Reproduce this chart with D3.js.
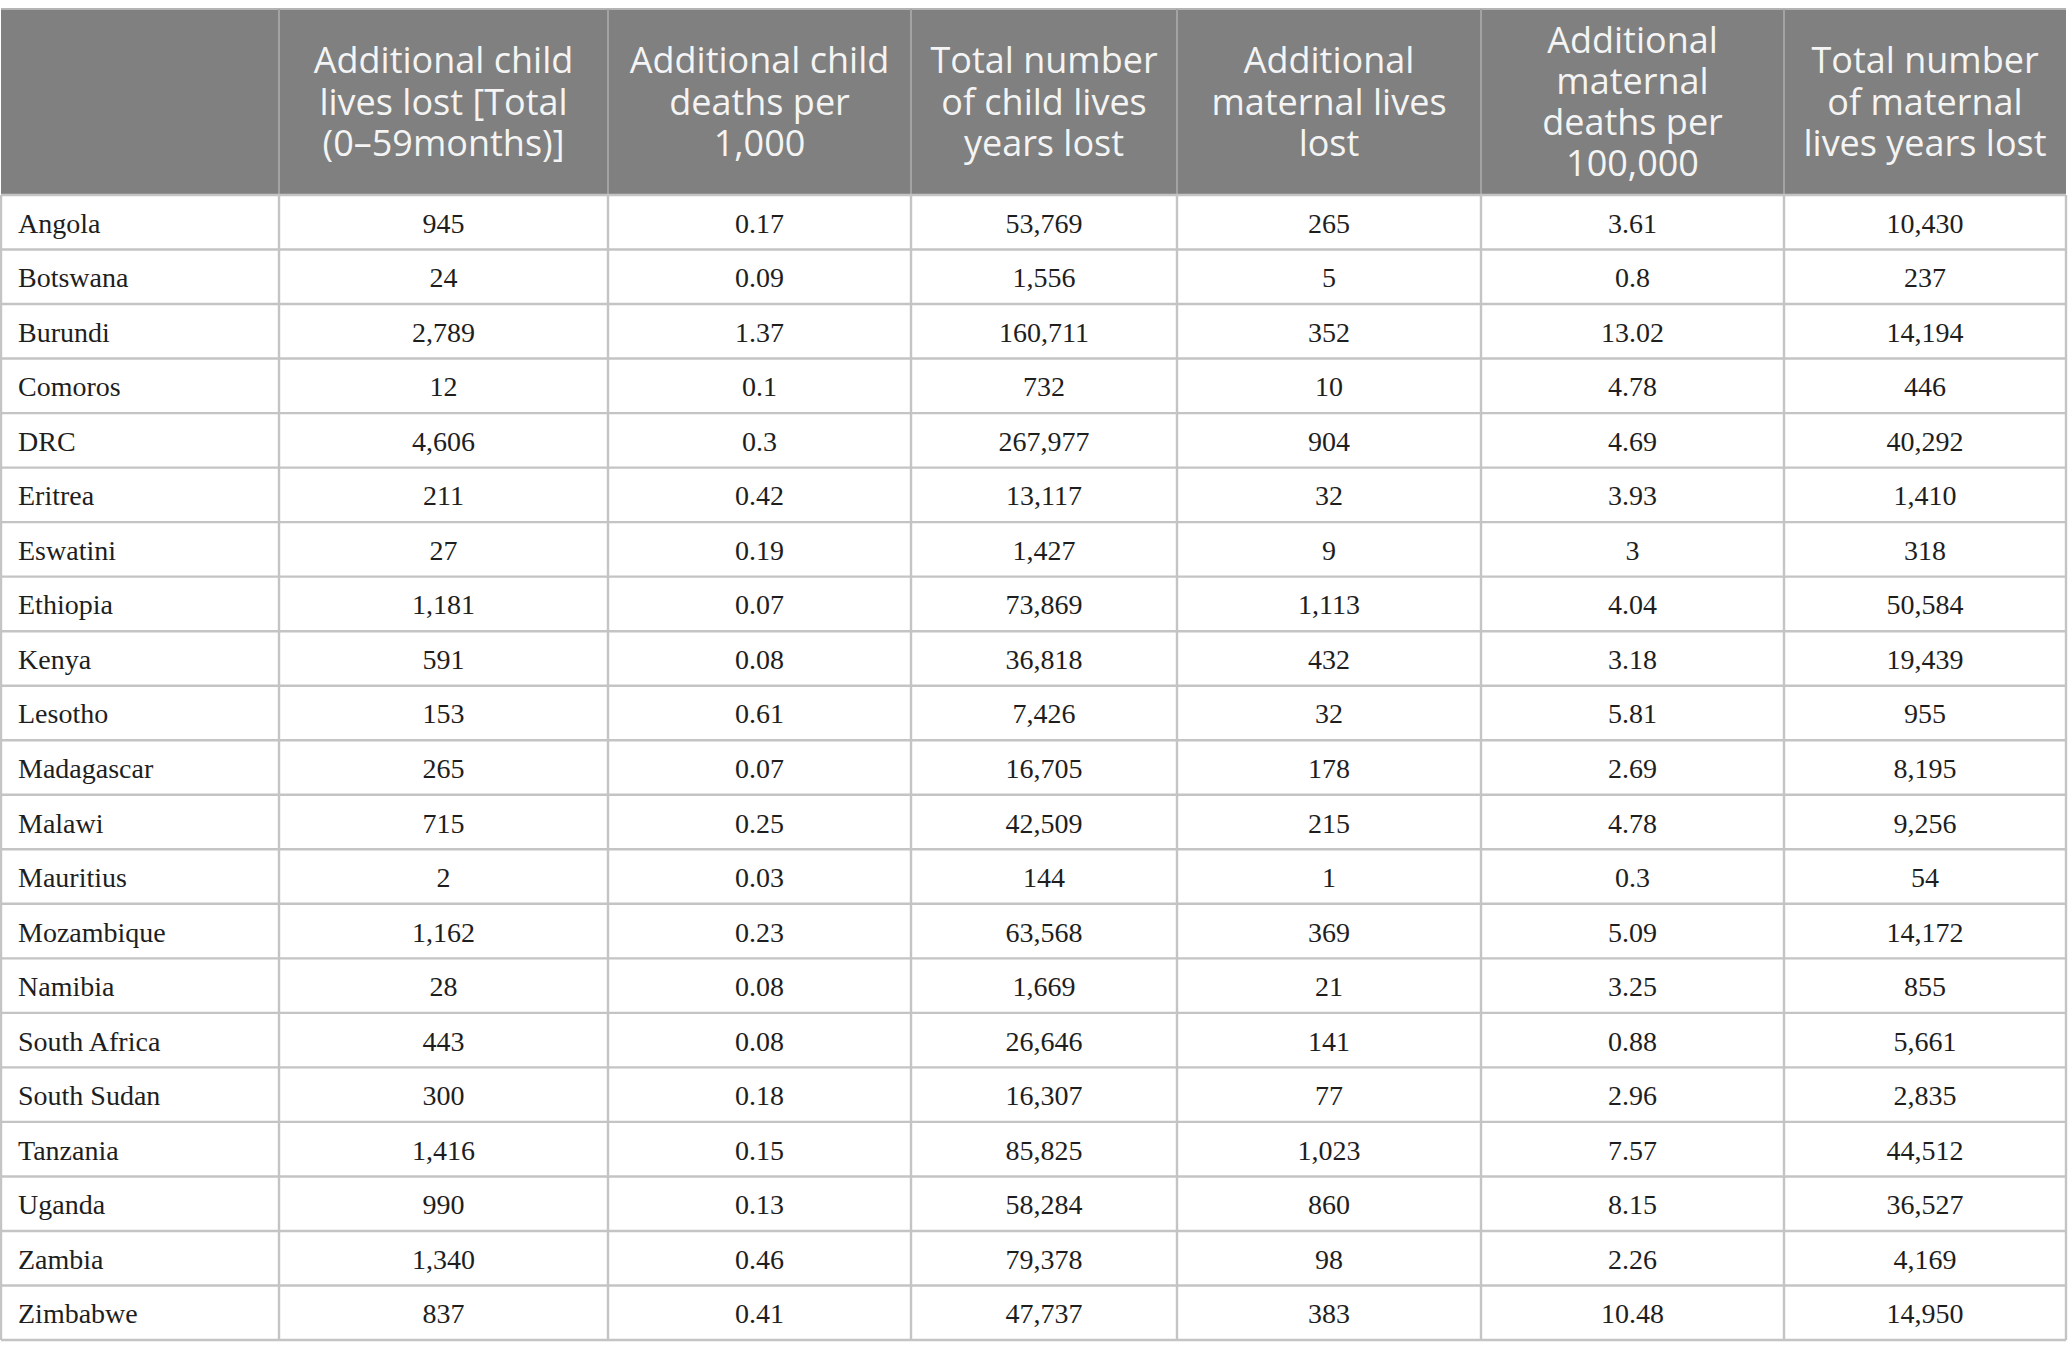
<!DOCTYPE html>
<html>
<head>
<meta charset="utf-8">
<script src="https://cdn.jsdelivr.net/npm/d3@7"></script>
<style>
  body { margin: 0; background: #fff; }
  .head { font-family: "Open Sans", Lato, sans-serif; font-size: 36px; fill: #f4f4f4; }
  .cell { font-family: "Liberation Serif", "DejaVu Serif", serif; font-size: 28px; fill: #1e1e1e; }
</style>
</head>
<body>
<div id="table"></div>
<script>
// table content
const countries = ["Angola", "Botswana", "Burundi", "Comoros", "DRC", "Eritrea", "Eswatini",
  "Ethiopia", "Kenya", "Lesotho", "Madagascar", "Malawi", "Mauritius", "Mozambique",
  "Namibia", "South Africa", "South Sudan", "Tanzania", "Uganda", "Zambia", "Zimbabwe"];

const headers = [
  [""],
  ["Additional child", "lives lost [Total", "(0\u201359months)]"],
  ["Additional child", "deaths per", "1,000"],
  ["Total number", "of child lives", "years lost"],
  ["Additional", "maternal lives", "lost"],
  ["Additional", "maternal", "deaths per", "100,000"],
  ["Total number", "of maternal", "lives years lost"]
];

const childLivesLost = ["945", "24", "2,789", "12", "4,606", "211", "27", "1,181", "591", "153",
  "265", "715", "2", "1,162", "28", "443", "300", "1,416", "990", "1,340", "837"];
const childDeathsPer1000 = ["0.17", "0.09", "1.37", "0.1", "0.3", "0.42", "0.19", "0.07", "0.08", "0.61",
  "0.07", "0.25", "0.03", "0.23", "0.08", "0.08", "0.18", "0.15", "0.13", "0.46", "0.41"];
const childLifeYearsLost = ["53,769", "1,556", "160,711", "732", "267,977", "13,117", "1,427", "73,869",
  "36,818", "7,426", "16,705", "42,509", "144", "63,568", "1,669", "26,646", "16,307", "85,825",
  "58,284", "79,378", "47,737"];
const maternalLivesLost = ["265", "5", "352", "10", "904", "32", "9", "1,113", "432", "32",
  "178", "215", "1", "369", "21", "141", "77", "1,023", "860", "98", "383"];
const maternalDeathsPer100k = ["3.61", "0.8", "13.02", "4.78", "4.69", "3.93", "3", "4.04", "3.18", "5.81",
  "2.69", "4.78", "0.3", "5.09", "3.25", "0.88", "2.96", "7.57", "8.15", "2.26", "10.48"];
const maternalLifeYearsLost = ["10,430", "237", "14,194", "446", "40,292", "1,410", "318", "50,584",
  "19,439", "955", "8,195", "9,256", "54", "14,172", "855", "5,661", "2,835", "44,512", "36,527",
  "4,169", "14,950"];

const columns = [countries, childLivesLost, childDeathsPer1000, childLifeYearsLost,
  maternalLivesLost, maternalDeathsPer100k, maternalLifeYearsLost];

// layout
const W = 2068, H = 1359;
const colEdges = [1, 279, 608, 911, 1177, 1481, 1784, 2066];
const tableTop = 9, headBottom = 195, tableBottom = 1340;
const lineH = 41.3;

const svg = d3.select("#table")
  .append("svg")
    .attr("width", W)
    .attr("height", H)
    .attr("viewBox", `0 0 ${W} ${H}`);

const x = i => colEdges[i];
const y = d3.scaleBand()
  .domain(d3.range(countries.length))
  .range([headBottom, tableBottom]);

// header background
svg.append("rect")
  .attr("x", x(0)).attr("y", tableTop)
  .attr("width", x(7) - x(0)).attr("height", headBottom - tableTop)
  .attr("fill", "#7f807f");

svg.append("line")
  .attr("x1", x(0)).attr("x2", x(7)).attr("y1", tableTop).attr("y2", tableTop)
  .attr("stroke", "#b4b4b4").attr("stroke-width", 2);

// header column separators
svg.selectAll(".hsep")
  .data(d3.range(1, 7))
  .join("line")
    .attr("x1", d => x(d)).attr("x2", d => x(d))
    .attr("y1", tableTop).attr("y2", headBottom)
    .attr("stroke", "#a3a3a3").attr("stroke-width", 2);

// header text
const headMid = (tableTop + headBottom) / 2;
headers.forEach((lines, i) => {
  const cx = (x(i) + x(i + 1)) / 2;
  const t = svg.append("text")
    .attr("class", "head")
    .attr("text-anchor", "middle");
  lines.forEach((ln, k) => {
    t.append("tspan")
      .attr("x", cx)
      .attr("y", headMid + (k - (lines.length - 1) / 2) * lineH + 12.5)
      .text(ln);
  });
});

// body grid: horizontal rules
svg.selectAll(".hline")
  .data(d3.range(countries.length + 1))
  .join("line")
    .attr("x1", x(0)).attr("x2", x(7))
    .attr("y1", d => d < countries.length ? y(d) : tableBottom)
    .attr("y2", d => d < countries.length ? y(d) : tableBottom)
    .attr("stroke", "#c4c4c4").attr("stroke-width", 2.4);

// body grid: vertical rules
svg.selectAll(".vline")
  .data(d3.range(0, 8))
  .join("line")
    .attr("x1", d => x(d)).attr("x2", d => x(d))
    .attr("y1", headBottom).attr("y2", tableBottom)
    .attr("stroke", "#c4c4c4").attr("stroke-width", 2.4);

// body cells
columns.forEach((vals, ci) => {
  svg.selectAll(".c" + ci)
    .data(vals)
    .join("text")
      .attr("class", "cell c" + ci)
      .attr("x", ci === 0 ? x(0) + 17 : (x(ci) + x(ci + 1)) / 2)
      .attr("y", (d, r) => y(r) + y.bandwidth() / 2 + 10.5)
      .attr("text-anchor", ci === 0 ? "start" : "middle")
      .text(d => d);
});
</script>
</body>
</html>
